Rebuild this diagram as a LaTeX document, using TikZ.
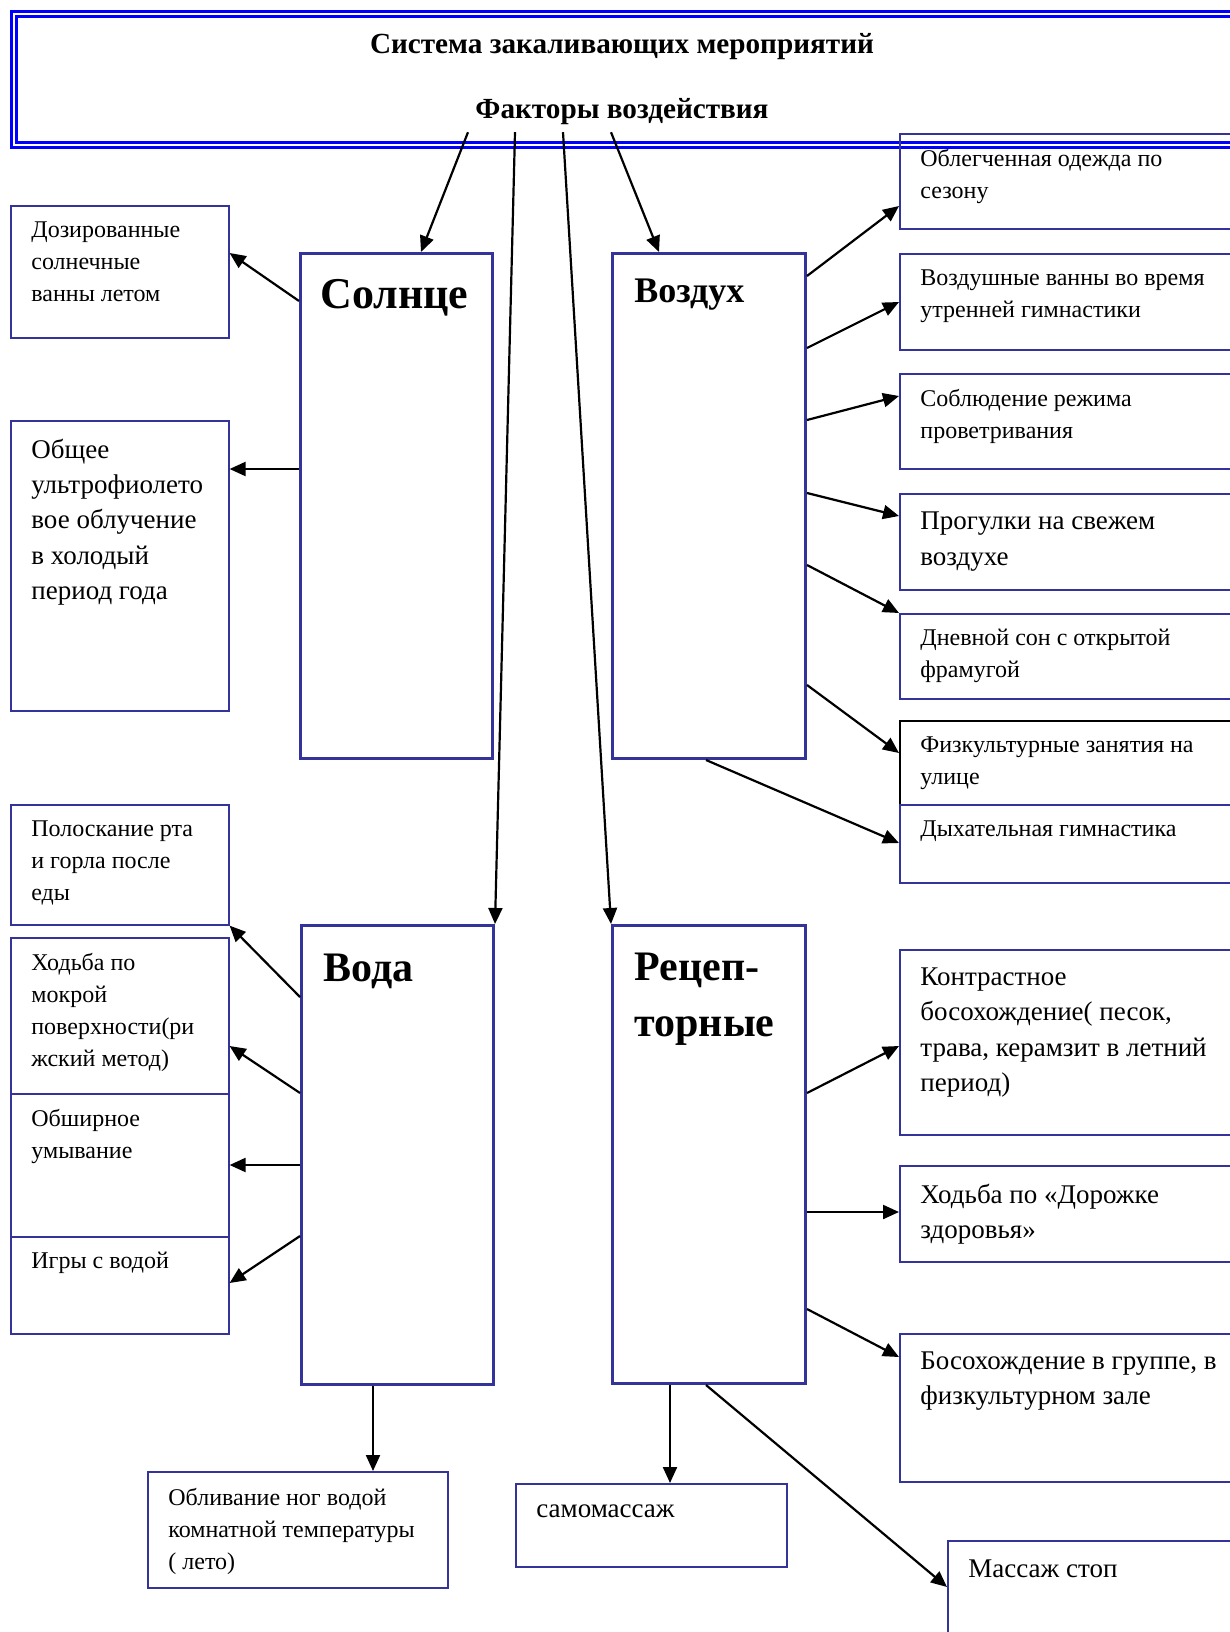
\documentclass[tikz,border=0pt]{standalone}
\usepackage{fontspec}
\setmainfont{Liberation Serif}
\usetikzlibrary{arrows.meta}
\definecolor{boxblue}{RGB}{51,51,153}
\definecolor{headblue}{RGB}{0,0,255}
\tikzstyle{header} = [rectangle, anchor=north west, draw=headblue, line width=1.5pt, double=white, double distance=1pt, inner sep=0pt]
\tikzstyle{headtext} = [anchor=base, inner sep=0pt, font=\fontsize{14.6}{17}\selectfont\bfseries]
\tikzstyle{factor} = [rectangle, anchor=north west, draw=boxblue, line width=1.5pt, inner sep=0pt]
\tikzstyle{measure} = [rectangle, anchor=north west, draw=boxblue, line width=0.8pt, inner sep=0pt]
\tikzstyle{factorname} = [anchor=base west, inner sep=0pt, align=left, font=\bfseries]
\tikzstyle{small} = [anchor=north west, inner sep=0pt, align=left, font=\fontsize{12}{16}\selectfont]
\tikzstyle{large} = [anchor=north west, inner sep=0pt, align=left, font=\fontsize{13.5}{17.7}\selectfont]
\tikzstyle{arrow} = [line width=1.1pt, -{Triangle[length=8pt,width=7pt]}]

\begin{document}
\begin{tikzpicture}[x=0.5pt, y=-0.5pt]
\useasboundingbox (0,0) rectangle (1230,1632);

% header
\node (head) [header, minimum width=624pt, minimum height=65.5pt] at (12.5,12.5) {};
\node (title) [headtext] at (622,54) {Система закаливающих мероприятий};
\node (factors) [headtext, outer sep=3.5pt] at (622,119) {Факторы воздействия};

% factors
\node (sun) [factor, minimum width=96pt, minimum height=252.5pt] at (299,252) {};
\node (air) [factor, minimum width=96.5pt, minimum height=252.5pt] at (611,252) {};
\node (water) [factor, minimum width=96pt, minimum height=229.5pt] at (300,924) {};
\node (rec) [factor, minimum width=96.5pt, minimum height=229pt] at (611,924) {};

\node (sunname) [factorname, font=\fontsize{22}{26}\selectfont\bfseries] at (320,308) {Солнце};
\node (airname) [factorname, font=\fontsize{18}{22}\selectfont\bfseries] at (634,302) {Воздух};
\node (watername) [factorname, font=\fontsize{21}{26}\selectfont\bfseries] at (323,981) {Вода};
\node (recname) [factorname, anchor=north west, font=\fontsize{21}{28}\selectfont\bfseries] at (634,953) {Рецеп-\\торные};

% sun
\node (sun1) [measure, minimum width=109pt, minimum height=66pt] at (10,205) {};
\node (sun2) [measure, minimum width=109pt, minimum height=145pt] at (10,420) {};
\node (sun1t) [small] at ([xshift=10.5pt,yshift=-8pt]sun1.north west) {Дозированные\\солнечные\\ванны летом};
\node (sun2t) [large] at ([xshift=10.5pt,yshift=-9.2pt]sun2.north west) {Общее\\ультрофиолето\\вое облучение\\в холодый\\период года};

% air
\node (air1) [measure, minimum width=176pt, minimum height=47.5pt] at (899,133) {};
\node (air2) [measure, minimum width=176pt, minimum height=48pt] at (899,253) {};
\node (air3) [measure, minimum width=176pt, minimum height=47.5pt] at (899,373) {};
\node (air4) [measure, minimum width=176pt, minimum height=48pt] at (899,493) {};
\node (air5) [measure, minimum width=176pt, minimum height=42.5pt] at (899,613) {};
\node (air6) [measure, draw=black, minimum width=176pt, minimum height=42pt] at (899,720) {};
\node (air7) [measure, minimum width=176pt, minimum height=39pt] at (899,804) {};
\node (air1t) [small] at ([xshift=10.5pt,yshift=-8pt]air1.north west) {Облегченная одежда по\\сезону};
\node (air2t) [small] at ([xshift=10.5pt,yshift=-8pt]air2.north west) {Воздушные ванны во время\\утренней гимнастики};
\node (air3t) [small] at ([xshift=10.5pt,yshift=-8pt]air3.north west) {Соблюдение режима\\проветривания};
\node (air4t) [large] at ([xshift=10.5pt,yshift=-9.3pt]air4.north west) {Прогулки на свежем\\воздухе};
\node (air5t) [small] at ([xshift=10.5pt,yshift=-8pt]air5.north west) {Дневной сон с открытой\\фрамугой};
\node (air6t) [small] at ([xshift=10.5pt,yshift=-8pt]air6.north west) {Физкультурные занятия на\\улице};
\node (air7t) [small] at ([xshift=10.5pt,yshift=-8pt]air7.north west) {Дыхательная гимнастика};

% water
\node (wat1) [measure, minimum width=109pt, minimum height=60pt] at (10,804) {};
\node (wat2) [measure, minimum width=109pt, minimum height=78pt] at (10,937) {};
\node (wat3) [measure, minimum width=109pt, minimum height=71.5pt] at (10,1093) {};
\node (wat4) [measure, minimum width=109pt, minimum height=48.5pt] at (10,1236) {};
\node (wat1t) [small] at ([xshift=10.5pt,yshift=-8pt]wat1.north west) {Полоскание рта\\и горла после\\еды};
\node (wat2t) [small] at ([xshift=10.5pt,yshift=-8pt]wat2.north west) {Ходьба по\\мокрой\\поверхности(ри\\жский метод)};
\node (wat3t) [small] at ([xshift=10.5pt,yshift=-8pt]wat3.north west) {Обширное\\умывание};
\node (wat4t) [small] at ([xshift=10.5pt,yshift=-8pt]wat4.north west) {Игры с водой};

% receptors
\node (rec1) [measure, minimum width=176pt, minimum height=92.5pt] at (899,949) {};
\node (rec2) [measure, minimum width=176pt, minimum height=48pt] at (899,1165) {};
\node (rec3) [measure, minimum width=176pt, minimum height=74pt] at (899,1333) {};
\node (rec1t) [large] at ([xshift=10.5pt,yshift=-9.2pt]rec1.north west) {Контрастное\\босохождение( песок,\\трава, керамзит в летний\\период)};
\node (rec2t) [large] at ([xshift=10.5pt,yshift=-9.2pt]rec2.north west) {Ходьба по «Дорожке\\здоровья»};
\node (rec3t) [large] at ([xshift=10.5pt,yshift=-9.2pt]rec3.north west) {Босохождение в группе, в\\физкультурном зале};

% bottom
\node (bot1) [measure, minimum width=150pt, minimum height=58pt] at (147,1471) {};
\node (bot2) [measure, minimum width=135.5pt, minimum height=41.5pt] at (515,1483) {};
\node (bot3) [measure, minimum width=150pt, minimum height=50pt] at (947,1540) {};
\node (bot1t) [small] at ([xshift=10.5pt,yshift=-8.3pt]bot1.north west) {Обливание ног водой\\комнатной температуры\\( лето)};
\node (bot2t) [large] at ([xshift=10.5pt,yshift=-10.5pt]bot2.north west) {самомассаж};
\node (bot3t) [large] at ([xshift=10.5pt,yshift=-9.7pt]bot3.north west) {Массаж стоп};

% connectors
\draw [arrow] (factors.south -| 468,0) -- (sun.north -| 421,0);
\draw [arrow] (factors.south -| 515,0) -- (water.north east);
\draw [arrow] (factors.south -| 563,0) -- (rec.north west);
\draw [arrow] (factors.south -| 611,0) -- (air.north -| 659,0);

\draw [arrow] (sun.west |- 0,301) -- (sun1.east |- 0,253);
\draw [arrow] (sun.west |- 0,469) -- (sun2.east |- 0,469);

\draw [arrow] (air.east |- 0,276) -- (air1.west |- 0,206);
\draw [arrow] (air.east |- 0,348) -- (air2.west |- 0,302);
\draw [arrow] (air.east |- 0,420) -- (air3.west |- 0,396);
\draw [arrow] (air.east |- 0,493) -- (air4.west |- 0,516);
\draw [arrow] (air.east |- 0,565) -- (air5.west |- 0,613);
\draw [arrow] (air.east |- 0,685) -- (air6.west |- 0,753);
\draw [arrow] (air.south -| 706,0) -- (air7.west |- 0,843);

\draw [arrow] (water.west |- 0,997) -- (wat1.south east);
\draw [arrow] (water.west |- 0,1093) -- (wat2.east |- 0,1046);
\draw [arrow] (water.west |- 0,1165) -- (wat3.east |- 0,1165);
\draw [arrow] (water.west |- 0,1236) -- (wat4.east |- 0,1283);

\draw [arrow] (rec.east |- 0,1093) -- (rec1.west |- 0,1046);
\draw [arrow] (rec.east |- 0,1212) -- (rec2.west |- 0,1212);
\draw [arrow] (rec.east |- 0,1309) -- (rec3.west |- 0,1357);

\draw [arrow] (water.south -| 373,0) -- (bot1.north -| 373,0);
\draw [arrow] (rec.south -| 670,0) -- (bot2.north -| 670,0);
\draw [arrow] (rec.south -| 706,0) -- (bot3.west |- 0,1587);

\end{tikzpicture}
\end{document}
